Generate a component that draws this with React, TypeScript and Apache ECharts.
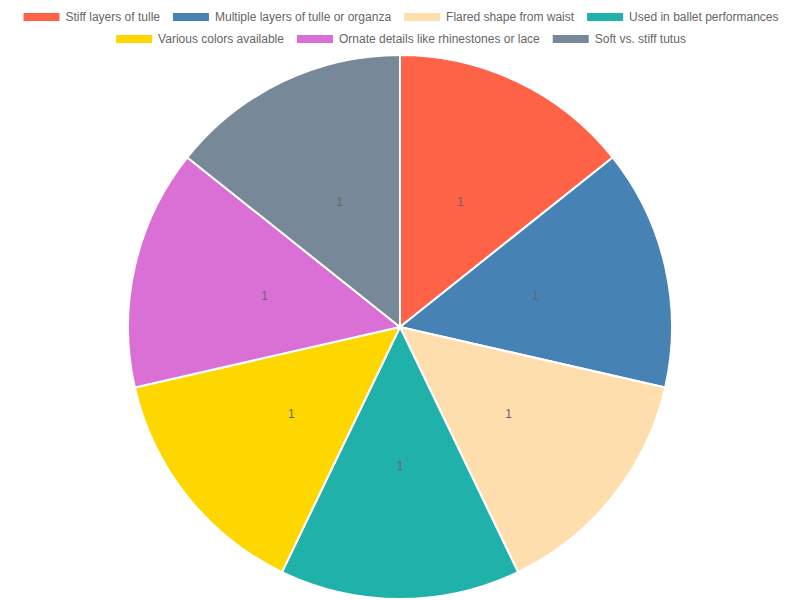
import React, { useEffect, useRef } from "react";
import * as echarts from "echarts";

const categories = [
  "Stiff layers of tulle",
  "Multiple layers of tulle or organza",
  "Flared shape from waist",
  "Used in ballet performances",
  "Various colors available",
  "Ornate details like rhinestones or lace",
  "Soft vs. stiff tutus",
];
const values = [1, 1, 1, 1, 1, 1, 1];
const colors = ["#FF6347", "#4682B4", "#FFDEAD", "#20B2AA", "#FFD700", "#DA70D6", "#778899"];

const legendRow1 = categories.slice(0, 4);
const legendRow2 = categories.slice(4);

export default function App() {
  const ref = useRef<HTMLDivElement>(null);
  useEffect(() => {
    const chart = echarts.init(ref.current!, null, { renderer: "svg" });
    const legendBase = {
      left: "center",
      itemWidth: 38,
      itemHeight: 10,
      itemGap: 11,
      icon: "rect",
      textStyle: { color: "#666", fontSize: 12, fontFamily: "Liberation Sans, Arial, sans-serif" },
    };
    chart.setOption({
      animation: false,
      color: colors,
      legend: [
        { ...legendBase, top: 6, data: legendRow1 },
        { ...legendBase, top: 28, data: legendRow2 },
      ],
      series: [
        {
          type: "pie",
          center: [400, 327],
          radius: 272,
          startAngle: 90,
          clockwise: true,
          itemStyle: { borderColor: "#fff", borderWidth: 2 },
          label: {
            show: true,
            position: "inside",
            formatter: "{c}",
            color: "#666",
            fontSize: 12,
            fontFamily: "Liberation Sans, Arial, sans-serif",
          },
          labelLine: { show: false },
          emphasis: { disabled: true },
          data: categories.map((name, i) => ({ name, value: values[i] })),
        },
      ],
    });
    return () => chart.dispose();
  }, []);
  return <div ref={ref} style={{ position: "absolute", left: 0, top: 0, width: 800, height: 600 }} />;
}
